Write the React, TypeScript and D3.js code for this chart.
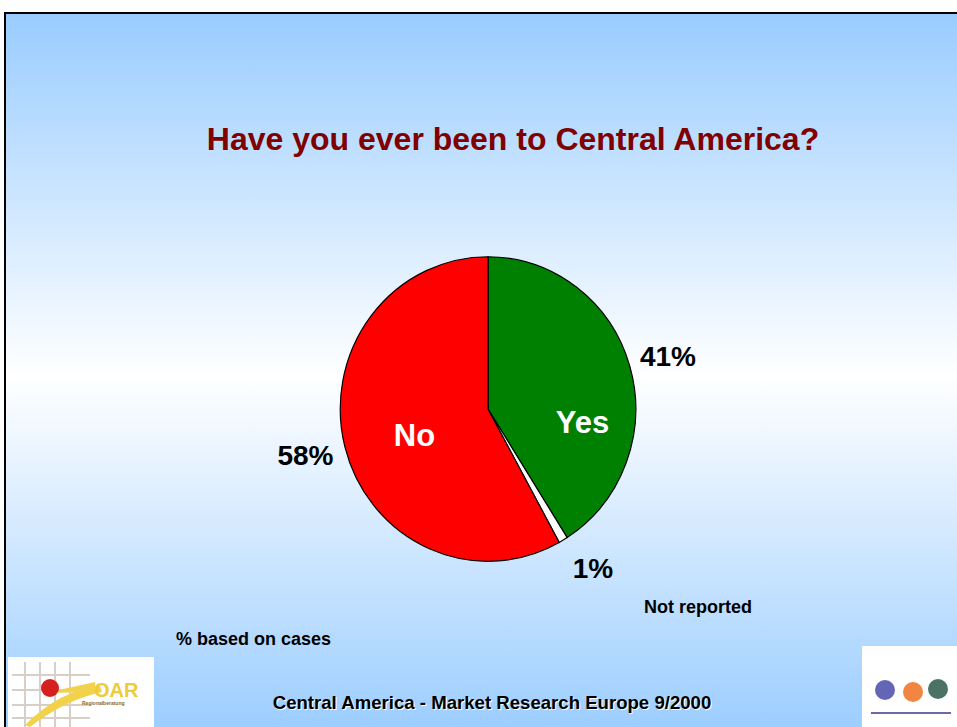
import React from "react";
import * as d3 from "d3";

const categories = ["Yes", "Not reported", "No"];
const values = [41, 1, 58];
const sliceColors = ["#008000", "#ffffff", "#ff0000"];
const percentLabels = ["41%", "1%", "58%"];

const W = 957;
const H = 727;

export default function App() {
  const cx = 488;
  const cy = 409;
  const r = 150;
  const pie = d3.pie<number>().sort(null).value((d) => d)(values);
  const arc = d3.arc<d3.PieArcDatum<number>>().innerRadius(0).outerRadius(r);
  const bold = { fontFamily: "'Liberation Sans', Arial, sans-serif", fontWeight: 700 } as const;

  return (
    <svg width={W} height={H} style={{ position: "absolute", left: 0, top: 0 }}>
      <defs>
        <linearGradient id="bg" x1="0" y1="0" x2="0" y2="1">
          <stop offset="0" stopColor="#99ccff" />
          <stop offset="0.5" stopColor="#ffffff" />
          <stop offset="1" stopColor="#99ccff" />
        </linearGradient>
      </defs>
      <rect x={0} y={0} width={W} height={H} fill="#ffffff" />
      <rect x={5} y={13} width={W} height={H} fill="url(#bg)" stroke="#000" strokeWidth={2} />
      <text x={513} y={150} textAnchor="middle" fill="#800000" fontSize={32} style={bold}>
        Have you ever been to Central America?
      </text>
      <g transform={`translate(${cx},${cy}) scale(0.985,1.015)`}>
        {pie.map((p, i) => (
          <path key={categories[i]} d={arc(p) || ""} fill={sliceColors[i]} stroke="#000" strokeWidth={1.2} />
        ))}
      </g>
      <text x={668} y={366} textAnchor="middle" fontSize={28} style={bold}>{percentLabels[0]}</text>
      <text x={593} y={578} textAnchor="middle" fontSize={28} style={bold}>{percentLabels[1]}</text>
      <text x={305.5} y={465} textAnchor="middle" fontSize={28} style={bold}>{percentLabels[2]}</text>
      <text x={582.5} y={433} textAnchor="middle" fontSize={31} fill="#fff" style={bold}>{categories[0]}</text>
      <text x={414.5} y={446} textAnchor="middle" fontSize={31} fill="#fff" style={bold}>{categories[2]}</text>
      <text x={698} y={613} textAnchor="middle" fontSize={18} style={bold}>{categories[1]}</text>
      <text x={176} y={645} fontSize={18} style={bold}>% based on cases</text>
      <text x={493} y={710} textAnchor="middle" fontSize={18.6} fill="#fff" style={bold}>
        Central America - Market Research Europe 9/2000
      </text>
      <text x={492} y={709} textAnchor="middle" fontSize={18.6} fill="#000" style={bold}>
        Central America - Market Research Europe 9/2000
      </text>
      {/* left logo */}
      <g>
        <rect x={8} y={657} width={146} height={70} fill="#fff" />
        {[25, 40, 55, 70].map((x) => (
          <line key={"v" + x} x1={x} y1={662} x2={x} y2={727} stroke="#d8cfc8" strokeWidth={2} />
        ))}
        {[675, 690, 705, 718].map((y) => (
          <line key={"h" + y} x1={12} y1={y} x2={90} y2={y} stroke="#d8cfc8" strokeWidth={2} />
        ))}
        <path d="M 25 725 Q 60 690 100 686 L 102 692 Q 65 700 30 727 Z" fill="#f2d24a" />
        <path d="M 45 693 L 95 682 L 95 692 Z" fill="#f2d24a" />
        <circle cx={50} cy={688} r={9} fill="#d62020" />
        <text x={94} y={697} fontSize={20} fill="#eecb3a" style={bold}>OAR</text>
        <text x={82} y={705} fontSize={5} fill="#8a6a30" style={bold}>Regionalberatung</text>
      </g>
      {/* right logo */}
      <g>
        <rect x={862} y={646} width={95} height={81} fill="#fff" />
        <circle cx={885} cy={690} r={10} fill="#4a4aa8" opacity={0.85} />
        <circle cx={913} cy={692} r={10} fill="#f07020" opacity={0.85} />
        <circle cx={938} cy={689} r={10} fill="#2a5a4a" opacity={0.85} />
        <rect x={871} y={712} width={80} height={2} fill="#6a6aa8" />
      </g>
    </svg>
  );
}
